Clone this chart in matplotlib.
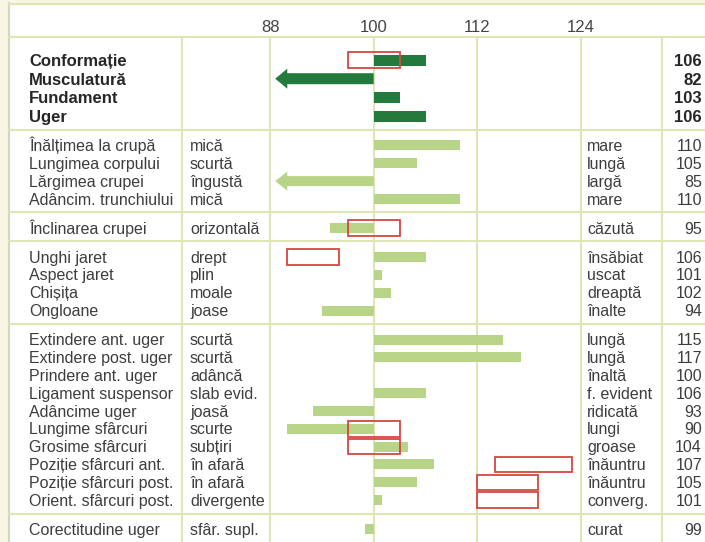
import matplotlib
matplotlib.use('Agg')
import matplotlib.pyplot as plt
from matplotlib.patches import Rectangle, Polygon

# Trait rows, grouped in table sections.
names = ['Conformație', 'Musculatură', 'Fundament', 'Uger',
         'Înălțimea la crupă', 'Lungimea corpului', 'Lărgimea crupei', 'Adâncim. trunchiului',
         'Înclinarea crupei',
         'Unghi jaret', 'Aspect jaret', 'Chișița', 'Ongloane',
         'Extindere ant. uger', 'Extindere post. uger', 'Prindere ant. uger',
         'Ligament suspensor', 'Adâncime uger', 'Lungime sfârcuri', 'Grosime sfârcuri',
         'Poziție sfârcuri ant.', 'Poziție sfârcuri post.', 'Orient. sfârcuri post.',
         'Corectitudine uger']
low_labels = ['', '', '', '',
              'mică', 'scurtă', 'îngustă', 'mică',
              'orizontală',
              'drept', 'plin', 'moale', 'joase',
              'scurtă', 'scurtă', 'adâncă', 'slab evid.', 'joasă', 'scurte',
              'subțiri', 'în afară', 'în afară', 'divergente',
              'sfâr. supl.']
high_labels = ['', '', '', '',
               'mare', 'lungă', 'largă', 'mare',
               'căzută',
               'însăbiat', 'uscat', 'dreaptă', 'înalte',
               'lungă', 'lungă', 'înaltă', 'f. evident', 'ridicată', 'lungi',
               'groase', 'înăuntru', 'înăuntru', 'converg.',
               'curat']
values = [106, 82, 103, 106,
          110, 105, 85, 110,
          95,
          106, 101, 102, 94,
          115, 117, 100, 106, 93, 90, 104, 107, 105, 101,
          99]
section_sizes = [4, 4, 1, 4, 10, 1]

# Red outlined reference ranges.
box_rows = ['Conformație', 'Înclinarea crupei', 'Unghi jaret', 'Lungime sfârcuri',
            'Grosime sfârcuri', 'Poziție sfârcuri ant.', 'Poziție sfârcuri post.',
            'Orient. sfârcuri post.']
box_lo = [97, 97, 90, 97, 97, 114, 112, 112]
box_hi = [103, 103, 96, 103, 103, 123, 119, 119]

scale_ticks = [88, 100, 112, 124]

DARK = '#247a3c'
LIGHT = '#b7d487'
RED = '#d6473f'
GRID = '#dde6b4'
TXT = '#3d3d3d'

plt.rcParams['font.family'] = ['Liberation Sans', 'DejaVu Sans']

W, H = 705, 542
fig = plt.figure(figsize=(W / 100, H / 100), dpi=100)
fig.patch.set_facecolor('white')

# Layout axes in pixel coordinates.
lay = fig.add_axes([0, 0, 1, 1])
lay.set_xlim(0, W)
lay.set_ylim(H, 0)
lay.axis('off')

# Chart axes: x in index units, y in the same pixel rows.
x0_px, x1_px = 270, 581
ax = fig.add_axes([x0_px / W, 0, (x1_px - x0_px) / W, 1])
ax.set_xlim(88, 124)
ax.set_ylim(H, 0)
ax.axis('off')
ax.patch.set_alpha(0)

# Row positions.
header_line = 37
row_y = []
seps = [header_line]
y = header_line
for si, n in enumerate(section_sizes):
    step = 18.7 if si == 0 else 17.85
    top = 23 if si == 0 else 15.5
    y = y + top
    for r in range(n):
        row_y.append(y + r * step)
    y = row_y[-1] + 13.8 if si == 0 else row_y[-1] + 13.5
    seps.append(y)
seps = seps[:-1]

# Frame: cream margin at top and left.
lay.add_patch(Rectangle((0, 0), W, 3, color='#f8f6e4', lw=0))
lay.add_patch(Rectangle((0, 0), 7.5, H, color='#f8f6e4', lw=0))
lay.plot([8.5, 8.5], [3, H], color='#d8d5bd', lw=1.6)
lay.plot([8.5, W], [3.5, 3.5], color=GRID, lw=1.6)

# Horizontal separators.
for s in seps:
    lay.plot([8.5, W], [s, s], color=GRID, lw=1.5)

# Column lines.
for cx in [182, 662]:
    lay.plot([cx, cx], [header_line, H], color=GRID, lw=1.5)
ax.vlines(scale_ticks, header_line, H, color=GRID, lw=1.5, clip_on=False)

# Scale labels.
for t in scale_ticks:
    ax.text(t, 32.5, str(t), ha='center', va='baseline', fontsize=12, color='#444444',
            clip_on=False)

# Red reference boxes.
box_h = 15.5
for nm, lo, hi in zip(box_rows, box_lo, box_hi):
    yy = row_y[names.index(nm)]
    ax.add_patch(Rectangle((lo, yy - box_h / 2), hi - lo, box_h, fill=False,
                           edgecolor=RED, lw=1.3, zorder=4))

# Bars and arrows.
for i, v in enumerate(values):
    yy = row_y[i]
    col = DARK if i < 4 else LIGHT
    bh = 11 if i < 4 else 10
    if v >= 88:
        ax.barh(yy, v - 100, left=100, height=bh, color=col, zorder=3)
    else:
        tip = 88.6
        head = 1.4
        hh = bh / 2 + 4.5
        pts = [(100, yy - bh / 2), (tip + head, yy - bh / 2), (tip + head, yy - hh),
               (tip, yy), (tip + head, yy + hh), (tip + head, yy + bh / 2),
               (100, yy + bh / 2)]
        ax.add_patch(Polygon(pts, closed=True, color=col, lw=0, zorder=3))

# Table text.
for i in range(len(names)):
    bold = i < 4
    fw = 'bold' if bold else 'normal'
    fs = 12 if bold else 11.5
    c = '#262626' if bold else TXT
    yy = row_y[i] + (6 if bold else 5.6)
    lay.text(29, yy, names[i], ha='left', va='baseline', fontsize=fs, fontweight=fw, color=c)
    lay.text(190, yy, low_labels[i], ha='left', va='baseline', fontsize=fs, color=TXT)
    lay.text(587, yy, high_labels[i], ha='left', va='baseline', fontsize=fs, color=TXT)
    lay.text(702, yy, str(values[i]), ha='right', va='baseline', fontsize=fs,
             fontweight=fw, color=c)

fig.savefig('out.png', dpi=100, facecolor='white')
